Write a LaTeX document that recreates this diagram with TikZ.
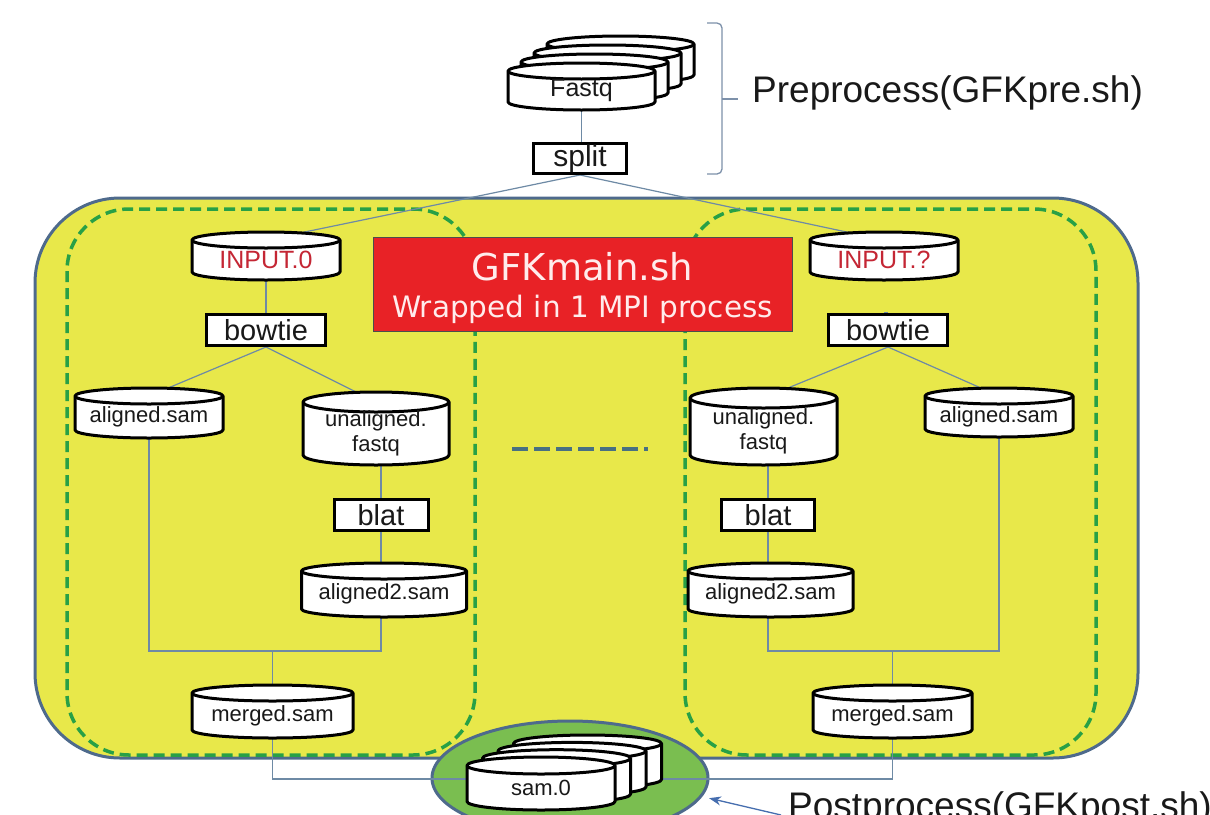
\documentclass[tikz,border=0pt]{standalone}
\usepackage{fontspec}
\setmainfont{Liberation Sans}
\newfontfamily\dejavu{DejaVu Sans}
\usetikzlibrary{arrows.meta,shapes.geometric,calc}
\pgfdeclarelayer{bg}
\pgfdeclarelayer{lines}
\pgfdeclarelayer{mid}
\pgfsetlayers{bg,lines,mid,main}
\definecolor{yel}{RGB}{232,232,74}
\definecolor{framec}{RGB}{78,106,140}
\definecolor{dgreen}{RGB}{40,160,70}
\definecolor{conncol}{RGB}{110,138,165}
\definecolor{redboxc}{RGB}{232,34,38}
\definecolor{inred}{RGB}{196,38,52}
\definecolor{ellg}{RGB}{122,190,80}
\definecolor{bracec}{RGB}{125,145,170}
\definecolor{middash}{RGB}{72,112,130}
\definecolor{arrowc}{RGB}{70,110,175}
\definecolor{txt}{RGB}{25,25,25}
\definecolor{pinkwhite}{RGB}{255,236,236}

% #1 name, #2 cx, #3 top, #4 rx, #5 h, #6 ry, #7 text
\newcommand\mycyl[7]{%
  \pgfmathsetmacro\cylyy{-(#3+#6+(#5-#6)/2)}%
  \pgfmathsetmacro\cylhh{#5-#6}%
  \pgfmathsetmacro\cylww{2*#4}%
  \node[cylnode, minimum width=\cylww pt, minimum height=\cylhh pt] (#1) at (#2,\cylyy) {#7};
  \begin{pgfonlayer}{mid}
    \draw[cylshape] (#1.north west) -- ([yshift=#6 pt]#1.south west)
      arc[start angle=180, end angle=360, x radius=#4, y radius=#6]
      -- (#1.north east)
      arc[start angle=0, end angle=180, x radius=#4, y radius=#6] -- cycle;
    \draw[cylshape, fill=none] (#1.north west)
      arc[start angle=180, end angle=360, x radius=#4, y radius=#6];
  \end{pgfonlayer}
}

\begin{document}
\begin{tikzpicture}[x=1pt,y=1pt,
  conn/.style={draw=conncol, line width=1.2pt},
  boxnode/.style={draw=black, line width=3pt, fill=white, inner sep=0pt,
    minimum height=31pt, text=txt, font=\fontsize{29}{30}\selectfont},
  cylnode/.style={rectangle, inner sep=0pt, outer sep=0pt, align=center,
    text=txt, font=\fontsize{22}{25}\selectfont},
  cylshape/.style={draw=black, line width=3pt, fill=white, line join=round},
  dashbox/.style={draw=dgreen, line width=3.5pt, dash pattern=on 11pt off 6pt,
    rounded corners=62pt},
  bigtext/.style={text=txt, font=\fontsize{37}{37}\selectfont, inner sep=0pt}
]
\useasboundingbox (0,0) rectangle (1210,-814);
\clip (0,0) rectangle (1210,-814);

\begin{pgfonlayer}{bg}
  \fill[white] (0,0) rectangle (1210,-814);
  \draw[draw=framec, line width=3pt, fill=yel, rounded corners=85pt]
    (35,-198) rectangle (1138,-758);
  \draw[dashbox] (67,-209) rectangle (475,-755);
  \draw[dashbox] (685,-209) rectangle (1096,-755);
  \draw[middash, line width=4pt, dash pattern=on 16pt off 6pt] (512,-449) -- (648,-449);
  \node[ellipse, draw=framec, line width=3pt, fill=ellg, minimum width=276pt,
    minimum height=114pt, inner sep=0pt] (post) at (570,-778) {};
\end{pgfonlayer}

% preprocess
\mycyl{fq3}{620.5}{36}{73.5}{47}{8}{}
\mycyl{fq2}{607.5}{45}{73.5}{47}{8}{}
\mycyl{fq1}{594.5}{54}{73.5}{47}{8}{}
\mycyl{fq}{581.5}{63}{73.5}{47}{8}{{\fontsize{25}{25}\selectfont Fastq}}
\node[boxnode, minimum width=93pt, minimum height=30pt, font=\fontsize{30}{30}\selectfont]
  (split) at (580,-158.5) {split};

\draw[bracec, line width=1.3pt, rounded corners=5pt]
  (707,-23) -- (722,-23) -- (722,-174) -- (707,-174);
\draw[bracec, line width=1.3pt] (722,-99) -- (738,-99);
\node[bigtext, anchor=base west] (prelabel) at (752,-102) {Preprocess(GFKpre.sh)};

% red box
\node[draw=black!70, line width=0.8pt, fill=redboxc, minimum width=419pt,
  minimum height=94pt, inner sep=0pt] (gfkbox) at (582.5,-284) {};
\node[anchor=base, inner sep=0pt, text=pinkwhite, font=\dejavu\fontsize{37}{37}\selectfont]
  (gfktitle) at (582.5,-280) {GFKmain.sh};
\node[anchor=base, inner sep=0pt, text=pinkwhite, font=\dejavu\fontsize{29.5}{30}\selectfont]
  (gfksub) at (582.5,-317) {Wrapped in 1 MPI process};

% left branch
\mycyl{in0}{266}{232}{74}{48}{8}{{\color{inred}\fontsize{25}{25}\selectfont INPUT.0}}
\node[boxnode, minimum width=119pt] (bt0) at (266,-330) {bowtie};
\mycyl{al0}{149}{388}{74}{50}{8}{aligned.sam}
\mycyl{un0}{376}{392}{73}{73}{10}{unaligned.\\fastq}
\node[boxnode, minimum width=94pt] (bl0) at (381,-515) {blat};
\mycyl{a20}{384}{563}{82.5}{54}{8}{aligned2.sam}
\mycyl{m0}{272.5}{685}{80.5}{53}{8}{merged.sam}

% right branch
\mycyl{inq}{884}{232}{74}{48}{8}{{\color{inred}\fontsize{25}{25}\selectfont INPUT.?}}
\node[boxnode, minimum width=119pt] (btq) at (888,-330) {bowtie};
\mycyl{unq}{763.5}{388}{73.5}{77}{10}{unaligned.\\fastq}
\mycyl{alq}{999}{388}{74}{49}{8}{aligned.sam}
\node[boxnode, minimum width=93pt] (blq) at (768,-515) {blat};
\mycyl{a2q}{770.5}{563}{82.5}{54}{8}{aligned2.sam}
\mycyl{mq}{892.5}{685}{79.5}{53}{8}{merged.sam}

% postprocess stack
\mycyl{s3}{587.5}{735}{74}{53}{8.5}{}
\mycyl{s2}{572}{742.4}{74}{53}{8.5}{}
\mycyl{s1}{556.5}{749.7}{74}{53}{8.5}{}
\mycyl{sam0}{541}{757}{74}{53}{8.5}{sam.0}
\node[bigtext, anchor=base west] (postlabel) at (788,-818) {Postprocess(GFKpost.sh)};

\coordinate (j0) at (272.5,-651);
\coordinate (jq) at (892.5,-651);
\coordinate (sj) at (541,-779);
\coordinate (ptail) at (781,-815);

\begin{pgfonlayer}{lines}
  \draw[conn] (fq.south) -- (fq.south |- split.north);
  \draw[conn] (split.south) -- (in0.north);
  \draw[conn] (split.south) -- (inq.north);
  % left
  \draw[conn] (bt0.north |- in0.south) -- (bt0.north);
  \draw[conn] (bt0.south) -- (al0.north);
  \draw[conn] (bt0.south) -- (un0.north);
  \draw[conn] (bl0.north |- un0.south) -- (bl0.north);
  \draw[conn] (bl0.south) -- (bl0.south |- a20.north);
  \draw[conn] (al0.south) |- (j0) -| (bl0.south |- a20.south);
  \draw[conn] (j0) -- (m0.north);
  \draw[conn] (m0.south) |- (sj);
  % right
  \draw[conn] (btq.north -| inq.south) -- (btq.north);
  \draw[conn] (btq.south) -- (unq.north);
  \draw[conn] (btq.south) -- (alq.north);
  \draw[conn] (blq.north |- unq.south) -- (blq.north);
  \draw[conn] (blq.south) -- (blq.south |- a2q.north);
  \draw[conn] (alq.south) |- (jq) -| (blq.south |- a2q.south);
  \draw[conn] (jq) -- (mq.north);
  \draw[conn] (mq.south) |- (sj);
\end{pgfonlayer}

\draw[arrowc, line width=1.3pt, -{Stealth[length=12pt,width=9pt]}, shorten >=7pt]
  (ptail) -- (post.-8);
\end{tikzpicture}
\end{document}
